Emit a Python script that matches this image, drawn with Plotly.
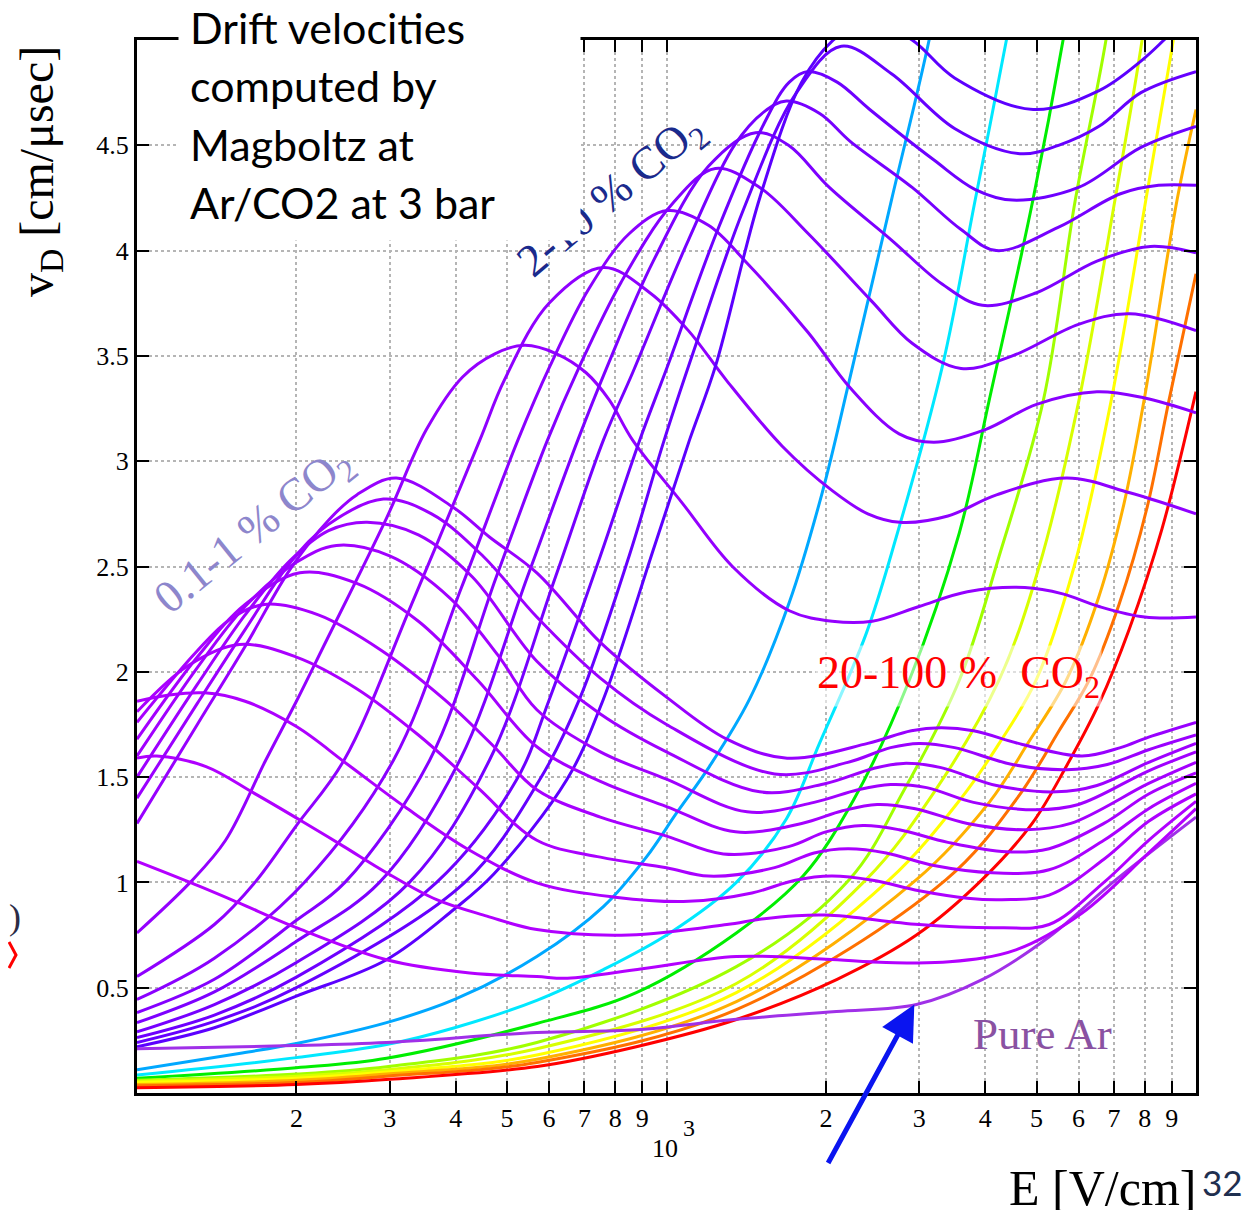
import plotly.graph_objects as go

# ---------------- data (E in V/cm, v_D in cm/us) ----------------
# Pure Ar
E_AR = [100, 198, 296, 569, 877, 1355, 2094, 2965, 3945, 5284, 7063, 10000]
V_AR = [0.21, 0.225, 0.24, 0.287, 0.30, 0.35, 0.387, 0.42, 0.538, 0.742, 1.013, 1.31]

# 0.1 - 1 % CO2
E_P01 = [100, 126, 155, 200, 296, 425, 569, 650, 900, 1355, 2000, 2600, 3420, 4570, 6095, 8140, 10000]
V_P01 = [1.10, 1.00, 0.905, 0.785, 0.633, 0.57, 0.553, 0.545, 0.59, 0.648, 0.635, 0.62, 0.623, 0.68, 0.855, 1.14, 1.35]
E_P02 = [100, 109, 135, 166, 206, 246, 296, 368, 458, 569, 850, 1300, 1500, 1758, 2000, 2213, 3000, 4300, 5280, 6700, 8140, 10000]
V_P02 = [1.59, 1.60, 1.55, 1.425, 1.287, 1.17, 1.046, 0.918, 0.84, 0.776, 0.75, 0.80, 0.825, 0.842, 0.845, 0.837, 0.80, 0.785, 0.80, 1.00, 1.20, 1.385]
E_P03 = [100, 115, 134, 160, 200, 250, 320, 420, 569, 800, 1100, 1450, 1750, 2050, 2450, 3000, 3700, 4300, 5280, 6700, 8140, 10000]
V_P03 = [1.86, 1.89, 1.90, 1.86, 1.74, 1.56, 1.36, 1.16, 0.998, 0.93, 0.91, 0.95, 1.01, 1.03, 1.01, 0.96, 0.925, 0.918, 0.94, 1.11, 1.29, 1.42]
E_P04 = [100, 125, 156, 200, 260, 340, 440, 569, 750, 1000, 1200, 1600, 1900, 2200, 2600, 3200, 4120, 5280, 6700, 8140, 10000]
V_P04 = [1.81, 2.03, 2.13, 2.07, 1.92, 1.70, 1.45, 1.20, 1.12, 1.07, 1.03, 1.07, 1.14, 1.16, 1.14, 1.08, 1.046, 1.06, 1.20, 1.35, 1.47]
E_P05 = [100, 130, 150, 174, 220, 290, 380, 470, 569, 750, 1000, 1280, 1700, 2000, 2350, 2750, 3400, 4385, 5280, 6700, 8140, 10000]
V_P05 = [1.76, 2.10, 2.25, 2.32, 2.27, 2.10, 1.87, 1.65, 1.44, 1.31, 1.22, 1.135, 1.17, 1.24, 1.27, 1.25, 1.19, 1.145, 1.16, 1.28, 1.42, 1.52]
E_P06 = [100, 130, 160, 203, 260, 340, 440, 569, 750, 1000, 1350, 1800, 2150, 2500, 2950, 3700, 4775, 5800, 8140, 10000]
V_P06 = [1.68, 2.07, 2.32, 2.47, 2.42, 2.24, 1.96, 1.644, 1.48, 1.36, 1.24, 1.28, 1.34, 1.37, 1.35, 1.28, 1.25, 1.28, 1.47, 1.57]
E_P07 = [100, 130, 160, 200, 238, 300, 390, 480, 569, 750, 1000, 1420, 1900, 2300, 2650, 3100, 3800, 4990, 6000, 8140, 10000]
V_P07 = [1.60, 2.02, 2.31, 2.52, 2.60, 2.55, 2.35, 2.08, 1.82, 1.62, 1.49, 1.335, 1.38, 1.44, 1.465, 1.45, 1.38, 1.345, 1.37, 1.53, 1.62]
E_P08 = [100, 130, 160, 195, 230, 272, 340, 430, 569, 750, 1000, 1500, 2000, 2450, 2800, 3300, 4200, 5445, 6500, 8140, 10000]
V_P08 = [1.50, 1.94, 2.27, 2.53, 2.67, 2.71, 2.65, 2.45, 2.05, 1.80, 1.62, 1.43, 1.47, 1.54, 1.565, 1.545, 1.46, 1.43, 1.46, 1.57, 1.66]
E_P09 = [100, 130, 160, 195, 230, 292, 360, 450, 569, 750, 1000, 1600, 2200, 2650, 3000, 3500, 4500, 5690, 6800, 8140, 10000]
V_P09 = [1.40, 1.85, 2.20, 2.52, 2.70, 2.82, 2.75, 2.55, 2.26, 1.97, 1.75, 1.515, 1.57, 1.64, 1.66, 1.64, 1.56, 1.535, 1.56, 1.63, 1.70]
E_P10 = [100, 130, 160, 195, 230, 260, 309, 396, 463, 569, 750, 1000, 1300, 1690, 2400, 2900, 3300, 3800, 4700, 6095, 7200, 8140, 10000]
V_P10 = [1.28, 1.75, 2.12, 2.49, 2.72, 2.84, 2.92, 2.78, 2.64, 2.47, 2.14, 1.88, 1.68, 1.59, 1.66, 1.72, 1.734, 1.72, 1.655, 1.60, 1.64, 1.69, 1.76]

# 2 - 10 % CO2
E_C2 = [100, 126, 147, 175, 200, 225, 296, 352, 412, 474, 540, 620, 705, 780, 863, 1072, 1332, 1706, 2056, 2447, 3000, 3700, 4750, 5600, 6560, 8000, 10000]
V_C2 = [0.76, 1.00, 1.20, 1.58, 1.86, 2.12, 2.73, 3.15, 3.40, 3.51, 3.55, 3.51, 3.42, 3.29, 3.10, 2.80, 2.50, 2.29, 2.24, 2.24, 2.31, 2.38, 2.40, 2.37, 2.31, 2.26, 2.26]
E_C3 = [100, 140, 167, 200, 246, 330, 444, 494, 600, 760, 930, 1100, 1297, 1656, 2056, 2400, 2760, 3400, 4200, 5700, 7500, 10000]
V_C3 = [0.553, 0.80, 1.0, 1.27, 1.58, 2.32, 3.10, 3.385, 3.75, 3.92, 3.80, 3.62, 3.385, 3.07, 2.86, 2.75, 2.71, 2.74, 2.84, 2.92, 2.85, 2.75]
E_C4 = [100, 140, 207, 305, 410, 524, 602, 714, 850, 1004, 1200, 1420, 1853, 2220, 2750, 3200, 4000, 5000, 6500, 8000, 10000]
V_C4 = [0.444, 0.64, 1.0, 1.58, 2.40, 3.10, 3.45, 3.82, 4.08, 4.19, 4.12, 3.94, 3.61, 3.35, 3.13, 3.09, 3.15, 3.27, 3.33, 3.30, 3.23]
E_C5 = [100, 140, 200, 247, 357, 477, 596, 685, 821, 1024, 1237, 1500, 1853, 2440, 2910, 3600, 4500, 6000, 7500, 10000]
V_C5 = [0.382, 0.54, 0.82, 1.0, 1.58, 2.45, 3.10, 3.45, 3.85, 4.22, 4.39, 4.30, 4.08, 3.76, 3.56, 3.44, 3.50, 3.65, 3.70, 3.62]
E_C6 = [100, 140, 200, 287, 407, 546, 680, 773, 944, 1200, 1473, 1700, 2030, 2660, 3320, 3950, 5000, 6500, 8200, 10000]
V_C6 = [0.334, 0.48, 0.72, 1.0, 1.58, 2.45, 3.10, 3.45, 3.95, 4.40, 4.56, 4.50, 4.30, 4.05, 3.84, 3.74, 3.80, 3.95, 4.02, 3.99]
E_C7 = [100, 140, 200, 327, 463, 617, 760, 863, 1100, 1343, 1530, 1684, 1950, 2220, 2910, 3600, 4200, 5490, 7200, 8500, 10000]
V_C7 = [0.29, 0.42, 0.62, 1.0, 1.58, 2.45, 3.10, 3.42, 4.05, 4.50, 4.66, 4.71, 4.65, 4.52, 4.30, 4.10, 4.00, 4.11, 4.27, 4.31, 4.31]
E_C8 = [100, 140, 200, 368, 521, 601, 750, 890, 1004, 1250, 1526, 1706, 1853, 2100, 2420, 3200, 3830, 4500, 6000, 7870, 10000]
V_C8 = [0.263, 0.37, 0.55, 1.0, 1.487, 1.87, 2.55, 3.10, 3.45, 4.10, 4.60, 4.80, 4.85, 4.80, 4.67, 4.43, 4.29, 4.24, 4.30, 4.49, 4.59]
E_C9 = [100, 140, 200, 416, 576, 685, 850, 990, 1153, 1400, 1760, 2138, 2660, 3500, 4650, 5500, 6560, 7870, 10000]
V_C9 = [0.24, 0.34, 0.50, 1.0, 1.487, 1.87, 2.55, 3.10, 3.60, 4.20, 4.75, 4.97, 4.84, 4.58, 4.46, 4.50, 4.59, 4.75, 4.85]
E_C10 = [100, 140, 200, 296, 396, 472, 648, 760, 950, 1105, 1237, 1500, 1800, 2066, 2400, 2910, 3500, 4925, 6560, 7870, 8700, 10000]
V_C10 = [0.22, 0.31, 0.46, 0.633, 0.87, 1.04, 1.487, 1.87, 2.60, 3.10, 3.45, 4.25, 4.80, 5.0, 5.10, 5.0, 4.82, 4.67, 4.76, 4.90, 5.0, 5.15]

# 20 - 100 % CO2
E_R20 = [100, 158, 200, 296, 398, 569, 760, 916, 1045, 1205, 1435, 1706, 1968, 2213, 2660, 3133, 3600]
V_R20 = [0.11, 0.19, 0.235, 0.334, 0.444, 0.648, 0.885, 1.12, 1.33, 1.55, 1.87, 2.33, 2.85, 3.38, 4.24, 5.0, 5.8]
E_R30 = [100, 200, 296, 398, 569, 760, 1015, 1355, 1683, 1945, 2382, 2716, 3319, 3828, 4385, 5000]
V_R30 = [0.085, 0.168, 0.23, 0.31, 0.44, 0.586, 0.76, 1.0, 1.30, 1.66, 2.18, 2.64, 3.45, 4.24, 5.0, 5.8]
E_R40 = [100, 200, 296, 569, 877, 1355, 1811, 2254, 2874, 3573, 4069, 4920, 5610, 6300]
V_R40 = [0.07, 0.12, 0.165, 0.33, 0.477, 0.76, 1.03, 1.39, 1.96, 2.66, 3.29, 4.24, 5.0, 5.8]
E_R50 = [100, 200, 296, 569, 1355, 2213, 2812, 3573, 4249, 5150, 5916, 6760, 7500]
V_R50 = [0.06, 0.09, 0.125, 0.24, 0.60, 1.013, 1.44, 1.96, 2.55, 3.29, 4.24, 5.0, 5.8]
E_R60 = [100, 200, 296, 569, 1355, 2382, 3205, 4246, 5056, 6012, 7030, 7910, 8700]
V_R60 = [0.055, 0.08, 0.11, 0.21, 0.52, 1.013, 1.43, 1.96, 2.50, 3.29, 4.24, 5.0, 5.8]
E_R70 = [100, 200, 296, 569, 1355, 2636, 3603, 4249, 4989, 5886, 6918, 8040, 9060, 10000]
V_R70 = [0.05, 0.07, 0.10, 0.18, 0.477, 1.013, 1.40, 1.66, 1.96, 2.50, 3.29, 4.24, 5.0, 5.7]
E_R80 = [100, 200, 296, 569, 1355, 2965, 4069, 4840, 5689, 6561, 7314, 7979, 9209, 10000]
V_R80 = [0.04, 0.06, 0.09, 0.16, 0.434, 1.013, 1.38, 1.67, 1.96, 2.36, 2.80, 3.29, 4.24, 4.67]
E_R90 = [100, 200, 296, 569, 1355, 3373, 4596, 5513, 6281, 7155, 8083, 8893, 10000]
V_R90 = [0.035, 0.05, 0.08, 0.145, 0.396, 1.013, 1.40, 1.72, 1.96, 2.32, 2.78, 3.29, 3.89]
E_R100 = [100, 200, 300, 570, 877, 1355, 2100, 2965, 3945, 4905, 5715, 6561, 7474, 8628, 10000]
V_R100 = [0.025, 0.04, 0.065, 0.126, 0.22, 0.349, 0.54, 0.75, 1.013, 1.28, 1.56, 1.85, 2.20, 2.68, 3.33]

# axis ticks
X_TICKS = [200, 300, 400, 500, 600, 700, 800, 900, 1000,
           2000, 3000, 4000, 5000, 6000, 7000, 8000, 9000]
X_LABELS = ['2', '3', '4', '5', '6', '7', '8', '9', '',
            '2', '3', '4', '5', '6', '7', '8', '9']
Y_TICKS = [0.5, 1, 1.5, 2, 2.5, 3, 3.5, 4, 4.5]
Y_LABELS = ['0.5', '1', '1.5', '2', '2.5', '3', '3.5', '4', '4.5']

# ---------------- styling ----------------
RAINBOW = [(E_R20, V_R20, '#00a8ff'), (E_R30, V_R30, '#00e8ff'), (E_R40, V_R40, '#00ee00'),
           (E_R50, V_R50, '#a0ff00'), (E_R60, V_R60, '#d8ff00'), (E_R70, V_R70, '#ffff00'),
           (E_R80, V_R80, '#ffb000'), (E_R90, V_R90, '#ff7000'), (E_R100, V_R100, '#ff0000')]
MID = [(E_C2, V_C2, '#9400ff'), (E_C3, V_C3, '#8f00ff'), (E_C4, V_C4, '#8a00ff'),
       (E_C5, V_C5, '#8400ff'), (E_C6, V_C6, '#7d00ff'), (E_C7, V_C7, '#7600ff'),
       (E_C8, V_C8, '#6e00ff'), (E_C9, V_C9, '#6600ff'), (E_C10, V_C10, '#5c00ff')]
LOW = [(E_P01, V_P01, '#b300ff'), (E_P02, V_P02, '#b000ff'), (E_P03, V_P03, '#ad00ff'),
       (E_P04, V_P04, '#aa00ff'), (E_P05, V_P05, '#a700ff'), (E_P06, V_P06, '#a400ff'),
       (E_P07, V_P07, '#a100ff'), (E_P08, V_P08, '#9e00ff'), (E_P09, V_P09, '#9b00ff'),
       (E_P10, V_P10, '#9800ff')]

fig = go.Figure()
for E, V, c in RAINBOW + MID + [(E_AR, V_AR, '#a030e8')] + LOW:
    fig.add_trace(go.Scatter(x=E, y=V, mode='lines', hoverinfo='skip', showlegend=False,
                             line=dict(color=c, width=3, shape='spline', smoothing=1.0)))

SERIF = 'Liberation Serif'
W0, H0 = 1059.0, 1053.0   # plot area size in px
L0, T0 = 137.0, 40.0      # plot area corner as seen in the page
OFF = 8                   # page body margin


def px(x):
    return (x - L0) / W0


def py(y):
    return (T0 + H0 - y) / H0


axis_common = dict(showline=True, linecolor='black', linewidth=3, mirror='ticks',
                   ticks='inside', ticklen=12, tickwidth=2, tickcolor='black',
                   showgrid=True, gridcolor='#b5b5b5', griddash='dot', gridwidth=1.5,
                   zeroline=False, tickfont=dict(family=SERIF, size=26, color='black'))
fig.update_xaxes(type='log', range=[2, 4], tickvals=X_TICKS, ticktext=X_LABELS, **axis_common)
fig.update_yaxes(range=[0, 5], tickvals=Y_TICKS, ticktext=Y_LABELS, **axis_common)


def label(text, x, y, size, color='black', family=SERIF, angle=0, xa='center', ya='middle', **kw):
    d = dict(text=text, x=px(x), y=py(y), xref='paper', yref='paper', showarrow=False,
             xanchor=xa, yanchor=ya, textangle=angle, font=dict(family=family, size=size, color=color))
    d.update(kw)
    return d


ann = []
ann.append(label('0.1-1 % CO<sub>2</sub>', 254, 532, 46, '#8d86cc', angle=-39))
ann.append(label('2-10 % CO<sub>2</sub>', 612, 197, 46, '#1a2a8c', angle=-40))
# white label box that hides part of the frame and of the 2-10 % label
ann.append(label(' ', 178, 0, 10, xa='left', ya='top', width=399, height=237, bgcolor='white'))
for i, line in enumerate(['Drift velocities', 'computed by', 'Magboltz at', 'Ar/CO2 at 3 bar']):
    ann.append(label(line, 188, 28 + 58 * i, 43, family='Lato', xa='left'))
ann.append(label('20-100 %&nbsp;&nbsp;CO<sub>2</sub>', 958, 676, 46, '#ff0000',
                 bgcolor='rgba(255,255,255,0.55)'))
ann.append(label('Pure Ar', 1042, 1034, 45, '#8a52a2'))
ann.append(dict(text='', x=3.468, y=0.42, xref='x', yref='y', ax=-87, ay=160, showarrow=True,
                arrowhead=2, arrowsize=1.4, arrowwidth=5, arrowcolor='#0a14f0', standoff=0))
ann.append(label('10', 665, 1148, 26))
ann.append(label('3', 689, 1128, 24))
ann.append(label('v<sub>D</sub> [cm/μsec]', 40, 172, 48, angle=-90))
ann.append(label('E [V/cm]', 1102, 1188, 50))
ann.append(label('32', 1222, 1182, 35, '#1f2f4f', family='Lato'))
ann.append(label(')', 15, 917, 36, '#2b2b45'))

shapes = [dict(type='path', xref='paper', yref='paper',
               path='M %f %f L %f %f L %f %f' % (px(9), py(942), px(16), py(955), px(9), py(968)),
               line=dict(color='red', width=3))]

fig.update_layout(width=1255, height=1210,
                  margin=dict(l=L0 - OFF, r=1255 - (L0 - OFF) - W0, t=T0 - OFF, b=1210 - (T0 - OFF) - H0),
                  paper_bgcolor='white', plot_bgcolor='white', showlegend=False,
                  annotations=ann, shapes=shapes)

fig.write_html('out.html')
